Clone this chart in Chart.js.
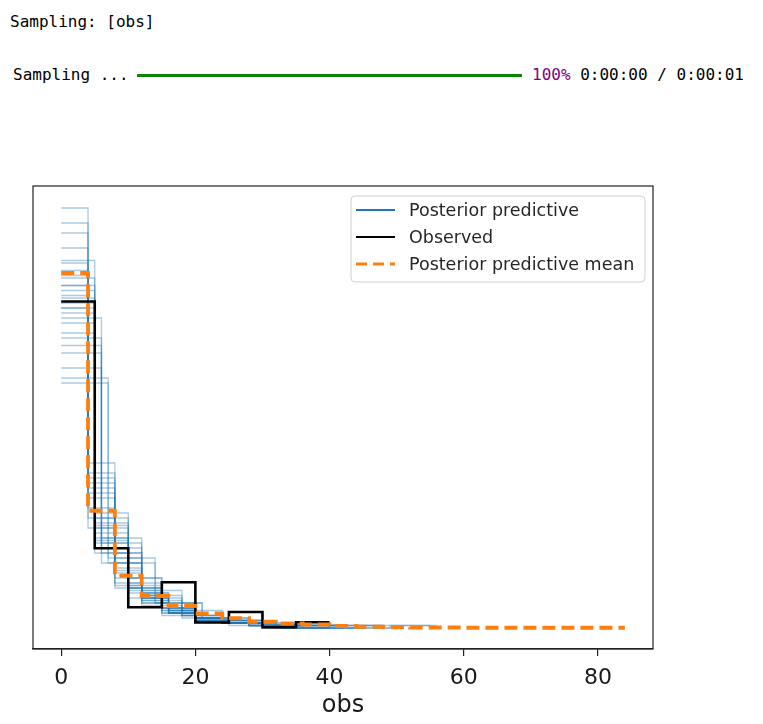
<!DOCTYPE html>
<html>
<head>
<meta charset="utf-8">
<script src="https://cdn.jsdelivr.net/npm/chart.js@4.4.0/dist/chart.umd.min.js"></script>
<style>
body { margin:0; background:#fff; width:763px; height:724px; overflow:hidden; position:relative; }
.out { position:absolute; font-family:"DejaVu Sans Mono", monospace; font-size:16px; line-height:20px; color:#000; white-space:pre; }
#bar { position:absolute; left:137px; top:74px; width:385px; height:3px; background:#0a850a; }
#cv { position:absolute; left:0; top:170px; }
</style>
</head>
<body>
<div class="out" style="left:10px;top:12px">Sampling: [obs]</div>
<div class="out" style="left:13px;top:65px">Sampling ...</div>
<div id="bar"></div>
<div class="out" style="left:532px;top:65px"><span style="color:#800080">100%</span> 0:00:00 / 0:00:01</div>
<canvas id="cv" width="680" height="554"></canvas>
<script>
// observed histogram (density), bins of 5
let obsEdges = [0, 5, 10, 15, 20, 25, 30, 35, 40]
let obsHeights = [0.1306, 0.0319, 0.0083, 0.0183, 0.0022, 0.0064, 0.0003, 0.0023]

// posterior predictive mean, bins of 4
let meanEdges = [0, 4, 8, 12, 16, 20, 24, 28, 32, 36, 40, 44, 48, 52, 56, 60, 64, 68, 72, 76, 80, 84]
let meanHeights = [0.142, 0.0469, 0.0209, 0.0128, 0.0088, 0.0058, 0.0039, 0.0025, 0.0018, 0.0014, 0.0008,
    0.0005, 0.0003, 0.0002, 0.0002, 0.0001, 0.0001, 0.0001, 0.0001, 0.0001, 0.0001]

// posterior predictive draws: bin width + densities
let ppWidths = [4, 4, 4, 4, 4, 4, 4, 4, 4, 4, 5, 5, 5, 5, 5, 5, 5, 5, 5, 5, 6, 6, 6, 6, 6, 7, 7]
let ppHeights = [
    [0.168, 0.040, 0.016, 0.010, 0.006, 0.004, 0.003, 0.002, 0.001],
    [0.162, 0.044, 0.017, 0.011, 0.006, 0.004, 0.003, 0.002, 0.001],
    [0.158, 0.048, 0.018, 0.010, 0.006, 0.004, 0.002, 0.002, 0.001, 0.0, 0.001],
    [0.152, 0.052, 0.020, 0.012, 0.006, 0.004, 0.002, 0.001, 0.001],
    [0.146, 0.054, 0.022, 0.012, 0.008, 0.004, 0.002, 0.001, 0.0, 0.001],
    [0.143, 0.056, 0.023, 0.013, 0.007, 0.004, 0.002, 0.001, 0.001],
    [0.141, 0.058, 0.024, 0.012, 0.007, 0.004, 0.002, 0.001, 0.001],
    [0.137, 0.060, 0.026, 0.013, 0.007, 0.003, 0.002, 0.001, 0.0, 0.0, 0.0, 0.001],
    [0.133, 0.062, 0.028, 0.014, 0.006, 0.004, 0.002, 0.001],
    [0.128, 0.066, 0.030, 0.014, 0.006, 0.003, 0.002, 0.001],
    [0.147, 0.030, 0.012, 0.005, 0.003, 0.002, 0.001],
    [0.140, 0.034, 0.014, 0.006, 0.003, 0.002, 0.0, 0.001],
    [0.137, 0.035, 0.015, 0.006, 0.004, 0.002, 0.001],
    [0.135, 0.036, 0.016, 0.007, 0.003, 0.002, 0.001],
    [0.132, 0.038, 0.016, 0.007, 0.004, 0.002, 0.0, 0.0, 0.001],
    [0.130, 0.040, 0.016, 0.008, 0.003, 0.001, 0.001, 0.0, 0.0, 0.001],
    [0.128, 0.041, 0.017, 0.008, 0.003, 0.002, 0.001],
    [0.126, 0.042, 0.018, 0.008, 0.003, 0.002, 0.001],
    [0.122, 0.044, 0.020, 0.008, 0.003, 0.002, 0.001],
    [0.118, 0.046, 0.020, 0.010, 0.003, 0.002, 0.0, 0.0, 0.0, 0.0, 0.001],
    [0.124, 0.026, 0.009, 0.004, 0.002, 0.001, 0.0, 0.001],
    [0.116, 0.030, 0.011, 0.005, 0.003, 0.001, 0.001],
    [0.113, 0.032, 0.012, 0.005, 0.003, 0.001, 0.001],
    [0.110, 0.034, 0.013, 0.005, 0.003, 0.001, 0.001],
    [0.104, 0.036, 0.015, 0.007, 0.003, 0.001, 0.001],
    [0.100, 0.026, 0.010, 0.004, 0.002, 0.001],
    [0.098, 0.028, 0.010, 0.004, 0.002, 0.0, 0.0, 0.001]
]

let xTicks = [0, 20, 40, 60, 80]
let legendLabels = ["Posterior predictive", "Observed", "Posterior predictive mean"]

const BLUE = "#1f77b4"
const ORANGE = "#ff7f0e"

// matplotlib steps-pre outline -> explicit corner points
function stepPoints(edges, heights) {
    let pts = []
    for (let i = 0; i < heights.length; i++) {
        pts.push({x: edges[i], y: heights[i]})
        pts.push({x: edges[i + 1], y: heights[i]})
    }
    return pts
}

let datasets = []
for (let k = 0; k < ppHeights.length; k++) {
    let edges = []
    for (let i = 0; i <= ppHeights[k].length; i++) edges.push(i * ppWidths[k])
    datasets.push({
        label: legendLabels[0],
        data: stepPoints(edges, ppHeights[k]),
        borderColor: "rgba(31,119,180,0.38)",
        borderWidth: 1.3,
        order: 2
    })
}
datasets.push({
    label: legendLabels[1],
    data: stepPoints(obsEdges, obsHeights),
    borderColor: "#000",
    borderWidth: 2.6,
    order: 1
})
datasets.push({
    label: legendLabels[2],
    data: stepPoints(meanEdges, meanHeights),
    borderColor: ORANGE,
    borderWidth: 3.8,
    borderDash: [13, 6],
    order: 0
})

const framePlugin = {
    id: "frame",
    afterDraw(chart) {
        let ctx = chart.ctx
        let a = chart.chartArea
        ctx.save()
        ctx.strokeStyle = "#222"
        ctx.lineWidth = 1.2
        ctx.strokeRect(a.left, a.top, a.right - a.left, a.bottom - a.top)

        // legend box top right
        let bw = 294, bh = 86
        let bx = a.right - 8 - bw, by = a.top + 10
        ctx.beginPath()
        ctx.roundRect(bx, by, bw, bh, 4)
        ctx.fillStyle = "rgba(255,255,255,0.85)"
        ctx.fill()
        ctx.strokeStyle = "#d0d0d0"
        ctx.lineWidth = 1
        ctx.stroke()

        let styles = [
            {c: BLUE, w: 2, d: []},
            {c: "#000", w: 2, d: []},
            {c: ORANGE, w: 3, d: [11, 6]}
        ]
        ctx.font = "17.5px 'DejaVu Sans'"
        ctx.textBaseline = "middle"
        for (let i = 0; i < legendLabels.length; i++) {
            let y = by + 14 + i * 27
            ctx.beginPath()
            ctx.setLineDash(styles[i].d)
            ctx.strokeStyle = styles[i].c
            ctx.lineWidth = styles[i].w
            ctx.moveTo(bx + 5, y)
            ctx.lineTo(bx + 44, y)
            ctx.stroke()
            ctx.setLineDash([])
            ctx.fillStyle = "#262626"
            ctx.fillText(legendLabels[i], bx + 58, y + 1)
        }
        ctx.restore()
    }
}

new Chart(document.getElementById("cv").getContext("2d"), {
    type: "line",
    data: {datasets: datasets},
    options: {
        responsive: false,
        animation: false,
        events: [],
        layout: {padding: {left: 33, right: 27, top: 16, bottom: 0}},
        elements: {point: {radius: 0}, line: {tension: 0, fill: false}},
        plugins: {legend: {display: false}, tooltip: {enabled: false}},
        scales: {
            x: {
                type: "linear",
                min: -4.2,
                max: 88.2,
                afterFit: (s) => { s.height = 75 },
                afterBuildTicks: (s) => { s.ticks = xTicks.map(v => ({value: v})) },
                ticks: {
                    color: "#1a1a1a",
                    font: {family: "DejaVu Sans", size: 22},
                    padding: 9,
                    maxRotation: 0
                },
                grid: {display: true, drawOnChartArea: false, drawTicks: true, tickLength: 7, color: "#222", lineWidth: 1.2},
                border: {display: true, color: "#222", width: 1.2},
                title: {display: true, text: "obs", color: "#1a1a1a", font: {family: "DejaVu Sans", size: 24}, padding: {top: 0, bottom: 4}}
            },
            y: {
                type: "linear",
                display: false,
                min: -0.0084,
                max: 0.1768
            }
        }
    },
    plugins: [framePlugin]
})
</script>
</body>
</html>
